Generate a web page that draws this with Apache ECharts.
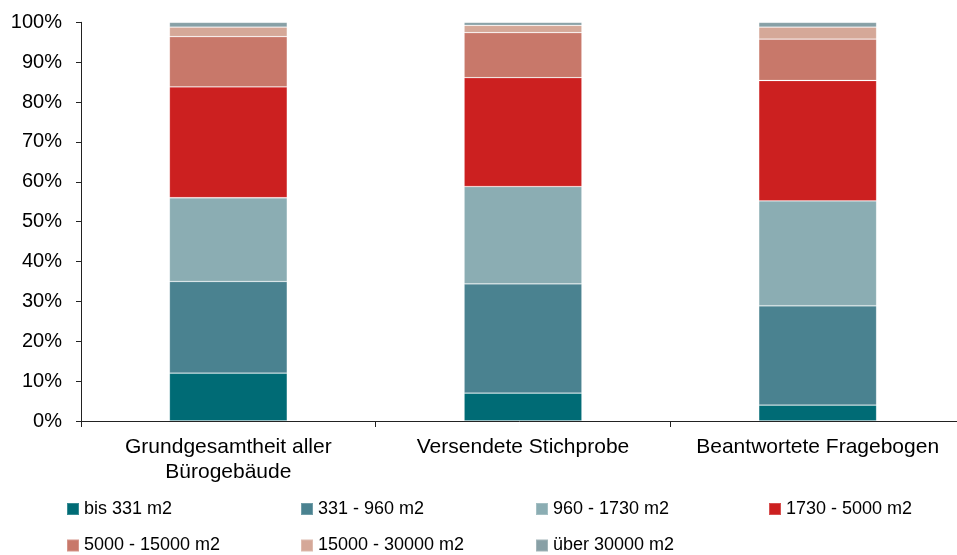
<!DOCTYPE html>
<html>
<head>
<meta charset="utf-8">
<script src="https://cdn.jsdelivr.net/npm/echarts@6/dist/echarts.min.js"></script>
<style>html,body{margin:0;padding:0;background:#fff;}#c{width:957px;height:555px;}</style>
</head>
<body>
<div id="c"></div>
<script>
var categories = ['Grundgesamtheit aller\nBürogebäude', 'Versendete Stichprobe', 'Beantwortete Fragebogen'];
var seriesNames = ['bis 331 m2', '331 - 960 m2', '960 - 1730 m2', '1730 - 5000 m2', '5000 - 15000 m2', '15000 - 30000 m2', 'über 30000 m2'];
var bis331 = [12, 7, 4];
var s331_960 = [23, 27.4, 24.9];
var s960_1730 = [21, 24.4, 26.3];
var s1730_5000 = [27.8, 27.3, 30.2];
var s5000_15000 = [12.6, 11.3, 10.4];
var s15000_30000 = [2.4, 1.85, 3.0];
var ueber30000 = [1.2, 0.75, 1.2];
var yTicks = [0, 10, 20, 30, 40, 50, 60, 70, 80, 90, 100];

var values = [bis331, s331_960, s960_1730, s1730_5000, s5000_15000, s15000_30000, ueber30000];
var colors = ['#006B75', '#4A8290', '#8BADB3', '#CC2020', '#C8786A', '#D5A898', '#88A0A6'];
var font = 'Liberation Sans, Arial, sans-serif';

var chart = echarts.init(document.getElementById('c'));
var series = seriesNames.map(function (n, i) {
  return {
    name: n, type: 'bar', stack: 'total', barWidth: '40%',
    data: values[i],
    itemStyle: { color: colors[i], borderColor: 'rgba(255,255,255,0.22)', borderWidth: 0.8 }
  };
});
var legendLeft = [66, 300, 535, 768];
var legendTop = [500, 536.5];
var legends = seriesNames.map(function (n, i) {
  return {
    data: [n], left: legendLeft[i % 4], top: legendTop[Math.floor(i / 4)], padding: 0,
    itemWidth: 12, itemHeight: 12, icon: 'rect',
    textStyle: { fontFamily: font, fontSize: 18, color: '#000' }
  };
});
chart.setOption({
  animation: false,
  color: colors,
  grid: { left: 81, top: 22.3, height: 398.7, width: 884, containLabel: false, outerBoundsMode: 'none' },
  xAxis: {
    type: 'category', data: categories,
    axisLine: { lineStyle: { color: '#222', width: 1 } },
    axisTick: { show: true, alignWithLabel: false, length: 6, lineStyle: { color: '#222' } },
    axisLabel: { color: '#000', fontFamily: font, fontSize: 21, lineHeight: 25, margin: 14, interval: 0, hideOverlap: false }
  },
  yAxis: {
    type: 'value', min: yTicks[0], max: yTicks[yTicks.length - 1], interval: 10,
    splitLine: { show: false },
    axisLine: { show: true, lineStyle: { color: '#222', width: 1 } },
    axisTick: { show: true, length: 5, lineStyle: { color: '#222' } },
    axisLabel: { color: '#000', fontFamily: font, fontSize: 20, margin: 19, formatter: '{value}%' }
  },
  legend: legends,
  series: series
});
</script>
</body>
</html>
